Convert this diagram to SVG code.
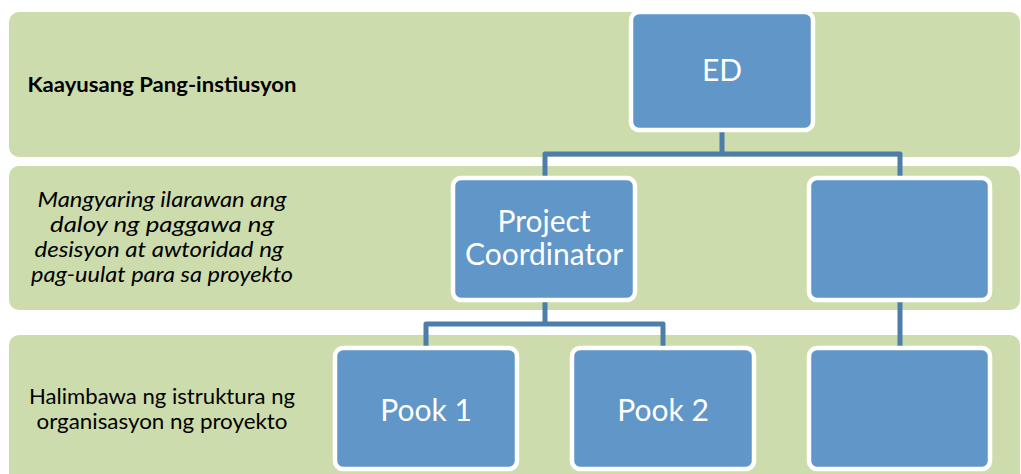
<svg xmlns="http://www.w3.org/2000/svg" width="1021" height="474" viewBox="0 0 1021 474">
  <style>
    .band { fill: #cddcac; }
    .box { fill: #6196c9; stroke: #ffffff; stroke-width: 4.5; }
    .link { fill: none; stroke: #4c7dab; stroke-width: 5; stroke-linejoin: round; }
    .lbl { font-family: Lato, "Liberation Sans", sans-serif; fill: #ffffff; font-size: 30px; text-anchor: middle; }
    .side { font-family: Lato, "Liberation Sans", sans-serif; fill: #000000; font-size: 21px; text-anchor: middle; }
    .note { font-family: Lato, "Liberation Sans", sans-serif; fill: #000000; font-size: 20.5px; font-style: italic; text-anchor: middle; }
  </style>
  <rect width="1021" height="474" fill="#ffffff"/>

  <!-- background bands -->
  <g id="band-institution">
    <rect class="band" x="9" y="12" width="1011" height="145" rx="10"/>
    <text class="side" x="162" y="92" font-size="20.5" font-weight="bold" textLength="269" lengthAdjust="spacingAndGlyphs">Kaayusang Pang-instiusyon</text>
  </g>
  <g id="band-flow">
    <rect class="band" x="9" y="166" width="1011" height="144" rx="10"/>
    <text class="note" x="162" y="207" textLength="249" lengthAdjust="spacingAndGlyphs">Mangyaring ilarawan ang</text>
    <text class="note" x="162" y="232" textLength="224" lengthAdjust="spacingAndGlyphs">daloy ng paggawa ng</text>
    <text class="note" x="159" y="257" textLength="249" lengthAdjust="spacingAndGlyphs">desisyon at awtoridad ng</text>
    <text class="note" x="162" y="282" textLength="262" lengthAdjust="spacingAndGlyphs">pag-uulat para sa proyekto</text>
  </g>
  <g id="band-structure">
    <rect class="band" x="9" y="335" width="1011" height="150" rx="10"/>
    <text class="side" x="162" y="404" textLength="266" lengthAdjust="spacingAndGlyphs">Halimbawa ng istruktura ng</text>
    <text class="side" x="162" y="429" textLength="251" lengthAdjust="spacingAndGlyphs">organisasyon ng proyekto</text>
  </g>

  <!-- connectors -->
  <g id="connectors">
    <path class="link" d="M722 130 V154 M545 178 V154 H900 V178"/>
    <path class="link" d="M545 300 V324 M426 348 V324 H663 V348"/>
    <path class="link" d="M900 300 V348"/>
  </g>

  <!-- nodes -->
  <g id="node-ed">
    <rect class="box" x="631" y="12" width="182" height="118" rx="8"/>
    <text class="lbl" x="722" y="81">ED</text>
  </g>
  <g id="node-coordinator">
    <rect class="box" x="453" y="178" width="182" height="122" rx="8"/>
    <text class="lbl" x="544" y="232">Project</text>
    <text class="lbl" x="544" y="265">Coordinator</text>
  </g>
  <g id="node-mid-right">
    <rect class="box" x="809" y="178" width="181" height="122" rx="8"/>
  </g>
  <g id="node-pook1">
    <rect class="box" x="335" y="348" width="182" height="121" rx="8"/>
    <text class="lbl" x="426" y="421">Pook 1</text>
  </g>
  <g id="node-pook2">
    <rect class="box" x="572" y="348" width="182" height="121" rx="8"/>
    <text class="lbl" x="663" y="421">Pook 2</text>
  </g>
  <g id="node-bottom-right">
    <rect class="box" x="809" y="348" width="181" height="121" rx="8"/>
  </g>
</svg>
